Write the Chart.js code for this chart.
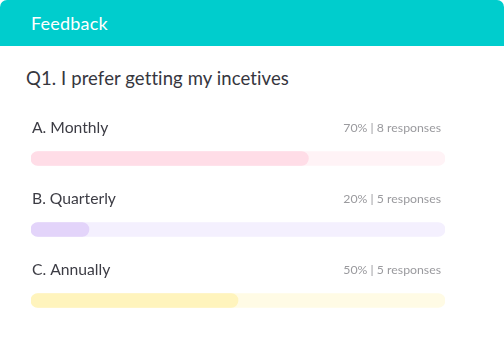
<!DOCTYPE html>
<html>
<head>
<meta charset="utf-8">
<script src="https://cdn.jsdelivr.net/npm/chart.js@4/dist/chart.umd.min.js"></script>
<style>
  html, body { margin: 0; padding: 0; background: #ffffff; }
  body { width: 504px; height: 358px; position: relative; overflow: hidden; font-family: Lato, "Open Sans", sans-serif; }
  .header { position: absolute; left: 0; top: 0; width: 504px; height: 46px; background: #00cdcd; border-radius: 7px 7px 0 0; }
  .header span { position: absolute; left: 31px; top: 13px; color: #ffffff; font-size: 18px; line-height: 20px; letter-spacing: 0.2px; }
  .title { position: absolute; left: 26px; top: 67px; color: #36363e; font-size: 18.5px; line-height: 22px; letter-spacing: 0.1px; }
  #wrap { position: absolute; left: 0; top: 0; width: 504px; height: 358px; }
</style>
</head>
<body>
<div class="header"><span>Feedback</span></div>
<div class="title">Q1. I prefer getting my incetives</div>
<div id="wrap"><canvas id="c"></canvas></div>
<script>
const categories = ["A. Monthly", "B. Quarterly", "C. Annually"];
const fillValues = [67, 14, 50];
const percents = [70, 20, 50];
const responses = [8, 5, 5];
const trackValues = [100, 100, 100];
const fillColors = ["#ffdde7", "#e3d4fa", "#fff4bd"];
const trackColors = ["#fff3f6", "#f4f0fe", "#fffbe5"];

const labelPlugin = {
  id: 'rowLabels',
  afterDatasetsDraw(chart) {
    const ctx = chart.ctx;
    const meta = chart.getDatasetMeta(0);
    const area = chart.chartArea;
    ctx.save();
    meta.data.forEach((bar, i) => {
      const y = bar.y - 31;
      ctx.textBaseline = 'middle';
      ctx.font = '15.7px Lato, "Open Sans", sans-serif';
      ctx.fillStyle = '#3c3c44';
      ctx.textAlign = 'left';
      ctx.fillText(categories[i], area.left + 1, y);
      ctx.font = '12.3px Lato, "Open Sans", sans-serif';
      ctx.fillStyle = '#9a9a9e';
      ctx.textAlign = 'right';
      ctx.fillText(percents[i] + '% | ' + responses[i] + ' responses', area.right - 4, y + 1);
    });
    ctx.restore();
  }
};

new Chart(document.getElementById('c'), {
  type: 'bar',
  data: {
    labels: categories,
    datasets: [
      { data: fillValues, backgroundColor: fillColors, borderRadius: 7, borderSkipped: false, barThickness: 14, order: 1 },
      { data: trackValues, backgroundColor: trackColors, borderRadius: 7, borderSkipped: false, barThickness: 14, order: 2 }
    ]
  },
  options: {
    indexAxis: 'y',
    responsive: true,
    maintainAspectRatio: false,
    animation: false,
    grouped: false,
    layout: { padding: { left: 31, right: 59, top: 123, bottom: 22 } },
    scales: {
      x: { display: false, min: 0, max: 100 },
      y: { display: false }
    },
    plugins: { legend: { display: false }, tooltip: { enabled: false } }
  },
  plugins: [labelPlugin]
});
</script>
</body>
</html>
